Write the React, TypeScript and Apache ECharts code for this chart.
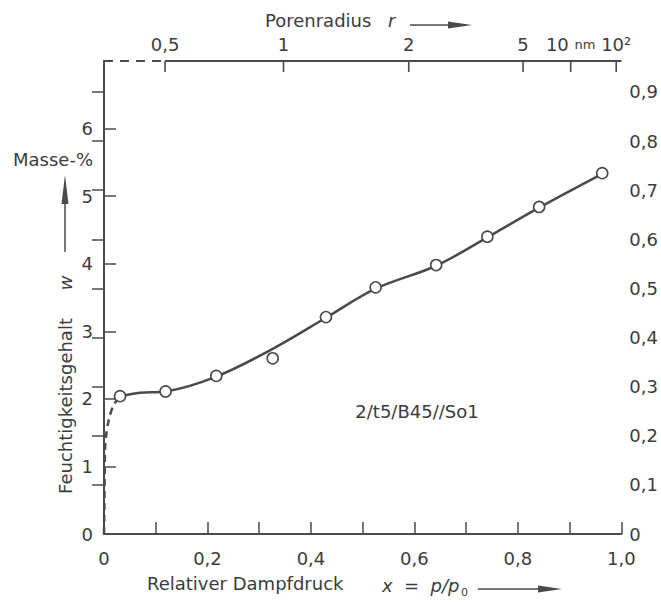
import React, { useEffect, useRef } from 'react';
import * as echarts from 'echarts';

// Measured points (relative vapour pressure x, moisture content w in mass-%)
const pressure = [0.031, 0.119, 0.217, 0.326, 0.429, 0.525, 0.642, 0.741, 0.841, 0.963];
const moisture = [2.04, 2.11, 2.34, 2.6, 3.21, 3.65, 3.98, 4.4, 4.84, 5.34];

// Fitted solid curve
const curveX = [0.031, 0.07, 0.119, 0.217, 0.326, 0.429, 0.525, 0.642, 0.741, 0.841, 0.963];
const curveY = [2.04, 2.09, 2.11, 2.33, 2.74, 3.2, 3.63, 3.97, 4.39, 4.83, 5.33];

// Dashed extrapolation near origin
const dashX = [0, 0.001, 0.002, 0.004, 0.009, 0.018, 0.031];
const dashY = [0, 0.6, 1.25, 1.45, 1.68, 1.9, 2.04];

// Top axis: pore radius ticks (positions on the x scale) and their labels
const poreTickPos = [0.118, 0.347, 0.589, 0.81, 0.902, 0.99];
const poreLabels = ['0,5', '1', '2', '5', '10 {s|nm}', '10²'];

// Right axis ticks
const rightTicks = [0.1, 0.2, 0.3, 0.4, 0.5, 0.6, 0.7, 0.8, 0.9];
const rightLabels = [0, 0.1, 0.2, 0.3, 0.4, 0.5, 0.6, 0.7, 0.8, 0.9];

const FONT = "'DejaVu Sans', sans-serif";
const TXT = '#3c3c3c';
const LINE = '#4a4a4a';
const FS = 18;
const Y_MAX = 7;

const fmtComma = (v: number) => (Math.abs(v) < 1e-9 ? '0' : v.toFixed(1).replace('.', ','));

export default function App() {
  const ref = useRef<HTMLDivElement>(null);
  useEffect(() => {
    document.body.style.margin = '0';
    const chart = echarts.init(ref.current!, null, { renderer: 'svg' });
    const axisLine = { show: true, lineStyle: { color: LINE, width: 2 } };
    const tick = { show: true, inside: true, length: 12, lineStyle: { color: LINE, width: 1.5 } };
    const label = { color: TXT, fontFamily: FONT, fontSize: FS };
    chart.setOption({
      animation: false,
      backgroundColor: '#ffffff',
      grid: { left: 104, right: 36, top: 61, bottom: 68 },
      xAxis: [
        {
          type: 'value', position: 'bottom', min: 0, max: 1, interval: 0.1,
          axisLine, axisTick: tick, splitLine: { show: false },
          axisLabel: {
            ...label, margin: 15,
            formatter: (v: number) => (Math.round(v * 10) % 2 === 0 ? fmtComma(v) : ''),
          },
        },
        {
          type: 'value', position: 'top', min: 0, max: 1,
          axisLine: { show: false },
          axisTick: { show: false },
          splitLine: { show: false },
          axisLabel: {
            ...label, margin: 8, customValues: poreTickPos,
            rich: { s: { fontSize: 13, fontFamily: FONT, color: TXT } },
            formatter: (v: number) => {
              let best = 0;
              poreTickPos.forEach((p, i) => { if (Math.abs(p - v) < Math.abs(poreTickPos[best] - v)) best = i; });
              return poreLabels[best];
            },
          },
        },
      ],
      yAxis: [
        {
          type: 'value', position: 'left', min: 0, max: Y_MAX, interval: 1,
          axisLine, axisTick: tick, splitLine: { show: false },
          axisLabel: { ...label, margin: 11, showMaxLabel: false },
        },
        {
          type: 'value', position: 'right', min: 0, max: 0.963,
          axisLine, splitLine: { show: false },
          axisTick: { ...tick, customValues: rightTicks },
          axisLabel: { ...label, margin: 8, customValues: rightLabels, formatter: (v: number) => fmtComma(v) },
        },
      ],
      series: [
        {
          type: 'line', data: [[0, Y_MAX], [poreTickPos[0], Y_MAX]], symbol: 'none', silent: true, clip: false,
          lineStyle: { color: LINE, width: 2, type: [9, 7] },
        },
        {
          type: 'line', data: [[poreTickPos[0], Y_MAX], [1, Y_MAX]], symbol: 'none', silent: true, clip: false,
          lineStyle: { color: LINE, width: 2 },
        },
        {
          // top-axis ticks (pore radius), hanging down from the frame
          type: 'scatter', data: poreTickPos.map((x) => [x, Y_MAX]), symbol: 'rect', symbolSize: [1.6, 11],
          symbolOffset: [0, 5.5], silent: true, clip: false,
          itemStyle: { color: LINE, opacity: 1 },
        },
        {
          type: 'line', data: dashX.map((x, i) => [x, dashY[i]]), symbol: 'none', smooth: 0.3,
          silent: true, clip: false,
          lineStyle: { color: LINE, width: 2.5, type: [7, 5] },
        },
        {
          type: 'line', data: curveX.map((x, i) => [x, curveY[i]]), symbol: 'none', smooth: 0.35,
          silent: true, lineStyle: { color: LINE, width: 2.5 },
        },
        {
          type: 'scatter', data: pressure.map((x, i) => [x, moisture[i]]), symbol: 'circle', symbolSize: 11,
          itemStyle: { color: '#ffffff', borderColor: LINE, borderWidth: 1.6, opacity: 1 }, z: 5,
        },
      ],
      graphic: [
        { type: 'text', left: 265, top: 11, style: { text: 'Porenradius', font: `${FS}px ${FONT}`, fill: TXT } },
        { type: 'text', left: 388, top: 11, style: { text: 'r', font: `italic ${FS}px ${FONT}`, fill: TXT } },
        { type: 'line', shape: { x1: 410, y1: 25, x2: 452, y2: 25 }, style: { stroke: LINE, lineWidth: 1.5 } },
        { type: 'polygon', shape: { points: [[448, 21.5], [472, 25], [448, 28.5]] }, style: { fill: LINE } },

        { type: 'text', left: 147, top: 574, style: { text: 'Relativer Dampfdruck', font: `${FS}px ${FONT}`, fill: TXT } },
        { type: 'text', left: 382, top: 576, style: { text: 'x  =  p/p', font: `italic ${FS}px ${FONT}`, fill: TXT } },
        { type: 'text', left: 461, top: 587, style: { text: '0', font: `11px ${FONT}`, fill: TXT } },
        { type: 'line', shape: { x1: 478, y1: 589, x2: 542, y2: 589 }, style: { stroke: LINE, lineWidth: 1.5 } },
        { type: 'polygon', shape: { points: [[538, 585.5], [562, 589], [538, 592.5]] }, style: { fill: LINE } },

        { type: 'text', right: 661 - 93, top: 150, style: { text: 'Masse-%', font: `${FS}px ${FONT}`, fill: TXT } },
        { type: 'line', shape: { x1: 65, y1: 252, x2: 65, y2: 200 }, style: { stroke: LINE, lineWidth: 1.5 } },
        { type: 'polygon', shape: { points: [[61.5, 204], [65, 175], [68.5, 204]] }, style: { fill: LINE } },
        {
          type: 'text', x: 65, y: 283, rotation: Math.PI / 2,
          style: { text: 'w', font: `italic ${FS}px ${FONT}`, fill: TXT, align: 'center', verticalAlign: 'middle' },
        },
        {
          type: 'text', x: 65, y: 406, rotation: Math.PI / 2,
          style: { text: 'Feuchtigkeitsgehalt', font: `${FS}px ${FONT}`, fill: TXT, align: 'center', verticalAlign: 'middle' },
        },
        {
          type: 'text', x: 417, y: 411,
          style: { text: '2/t5/B45//So1', font: `${FS}px ${FONT}`, fill: TXT, align: 'center', verticalAlign: 'middle' },
        },
      ],
    });
    return () => chart.dispose();
  }, []);
  return <div ref={ref} style={{ width: 661, height: 602 }} />;
}
